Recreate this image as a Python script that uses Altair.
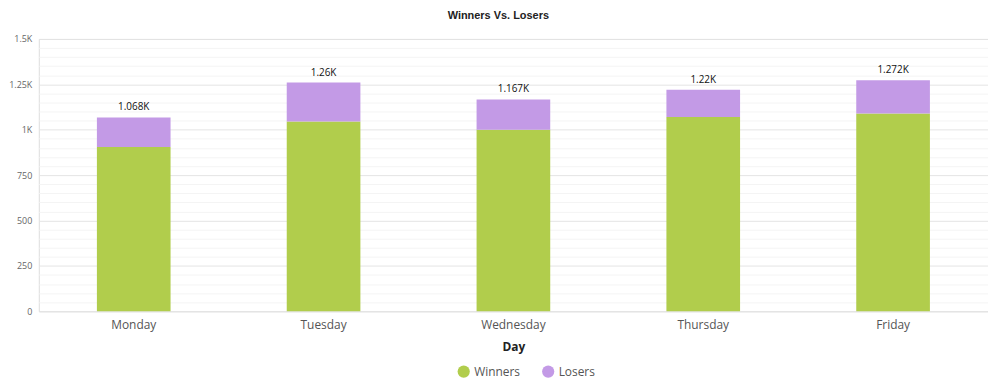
import altair as alt
import pandas as pd

days = ["Monday", "Tuesday", "Wednesday", "Thursday", "Friday"]
winners = [905, 1045, 1000, 1070, 1090]
losers = [163, 215, 167, 150, 182]
series = ["Winners", "Losers"]
colors = ["#B1CD4C", "#C39AE6"]
y_ticks = list(range(0, 1501, 50))

rows = []
for d, w, l in zip(days, winners, losers):
    rows.append({"Day": d, "Series": "Winners", "Value": w, "ord": 0})
    rows.append({"Day": d, "Series": "Losers", "Value": l, "ord": 1})
df = pd.DataFrame(rows)

font = "Open Sans"

x = alt.X("Day:N", sort=days, scale=alt.Scale(paddingInner=0.612, paddingOuter=0.306),
          axis=alt.Axis(title="Day", labelAngle=0, labelFontSize=12, labelColor="#555555",
                        labelFont=font, titleFont=font, titleFontSize=12, titleFontWeight="bold",
                        titleColor="#222222", ticks=False, domain=False, labelPadding=8,
                        titlePadding=11, grid=False))

yscale = alt.Scale(domain=[0, 1500], nice=False, zero=True)
yaxis = alt.Axis(title=None, values=y_ticks, ticks=False, domain=False,
                 labelExpr="datum.value % 250 !== 0 ? '' : (datum.value >= 1000 ? (datum.value/1000) + 'K' : datum.value)",
                 labelFontSize=9, labelColor="#666666", labelFont=font, labelPadding=7,
                 gridColor={"condition": {"test": "datum.value % 250 === 0", "value": "#e4e4e4"}, "value": "#f4f4f4"})

bars = alt.Chart(df).mark_bar(strokeWidth=0).encode(
    x=x,
    y=alt.Y("sum(Value):Q", scale=yscale, axis=yaxis),
    color=alt.Color("Series:N", sort=series, scale=alt.Scale(domain=series, range=colors),
                    legend=alt.Legend(title=None, orient="none", direction="horizontal",
                                      legendX=421, legendY=328, symbolType="circle", symbolSize=150,
                                      labelFontSize=12, labelFont=font, labelColor="#555555",
                                      columnPadding=21, symbolStrokeWidth=0)),
    order=alt.Order("ord:Q", sort="ascending"),
)

labels = alt.Chart(df).transform_aggregate(
    total="sum(Value)", groupby=["Day"]
).transform_calculate(
    lbl="datum.total/1000 + 'K'"
).mark_text(dy=-10, fontSize=10, font=font, color="#111111").encode(
    x=alt.X("Day:N", sort=days),
    y=alt.Y("total:Q", scale=yscale, axis=yaxis),
    text="lbl:N",
)

chart = alt.layer(bars, labels).properties(
    width=955, height=274,
    title=alt.TitleParams("Winners Vs. Losers", font="Liberation Sans", fontSize=11,
                          fontWeight="bold", color="#222222", anchor="middle", frame="bounds", offset=14),
).configure_view(stroke=None, strokeWidth=0).configure(padding={"left": 0, "top": 1, "right": 0, "bottom": 0})

chart.save("out.html", embed_options={"renderer": "svg", "actions": False})
